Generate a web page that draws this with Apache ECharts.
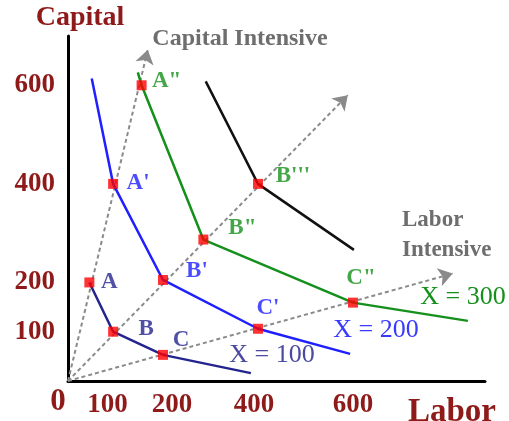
<!DOCTYPE html>
<html>
<head>
<meta charset="utf-8">
<script src="https://cdn.jsdelivr.net/npm/echarts@6/dist/echarts.min.js"></script>
<style>
  html, body { margin: 0; padding: 0; background: #fff; }
  #chart { width: 509px; height: 421px; }
</style>
</head>
<body>
<div id="chart"></div>
<script>
// tick labels shown on each axis
const xTicks = [100, 200, 400, 600]
const yTicks = [100, 200, 400, 600]

// isoquants: [labor, capital]
const curve100 = [[45, 200], [95, 100], [200, 53], [385, 16]]
const curve200 = [[50, 614], [95, 400], [200, 205], [400, 106], [594, 55]]
const curve300 = [[147, 626], [155, 600], [285, 287], [600, 159], [842, 122]]
const curveTop = [[290, 608], [400, 400], [602, 266]]

// marked points
const pointNames = ['A', 'B', 'C', "A'", "B'", "C'", 'A"', 'B"', 'C"', "B'''"]
const pointValues = [[45, 200], [95, 100], [200, 53], [95, 400], [200, 205], [400, 106], [155, 600], [285, 287], [600, 159], [400, 400]]
const pointCurve = [0, 0, 0, 1, 1, 1, 2, 2, 2, 2]

// expansion paths (rays from the origin)
const rayCapital = [[0, 0], [168, 672]]
const rayMiddle = [[0, 0], [589, 580]]
const rayLabor = [[0, 0], [810, 218]]

const curveNames = ['X = 100', 'X = 200', 'X = 300']
const curveColors = ['#24248f', '#1f1fff', '#15901c']
const serif = '"Liberation Serif", "DejaVu Serif", serif'
const darkRed = '#8e1a1a'

// label offsets for each point, in pixels from the marker centre
const labelOffsets = [[20, 0], [33, -3], [18, -15], [25, -1], [34, -9], [10, -21], [25, -4], [39, -11], [8, -25], [35, -8]]

const chart = echarts.init(document.getElementById('chart'))

const curveLine = (data, color) => ({
  type: 'line',
  data: data,
  showSymbol: false,
  silent: true,
  lineStyle: { color: color, width: 2.5 },
  z: 3
})

const option = {
  animation: false,
  grid: { left: 68, right: 24, top: 36, bottom: 40 },
  xAxis: {
    type: 'value',
    min: 0,
    max: 878,
    interval: 100,
    axisLine: { lineStyle: { color: '#000', width: 3 } },
    axisTick: { show: false },
    splitLine: { show: false },
    axisLabel: {
      margin: 11,
      color: darkRed,
      fontFamily: serif,
      fontWeight: 'bold',
      fontSize: 27,
      showMaxLabel: false,
      formatter: function (v) {
        if (!xTicks.includes(v)) return ''
        if (v === 100) return '{l|100}'
        if (v === 200) return '{r|200}'
        if (v === 400) return '{s|400}'
        return '{n|' + v + '}'
      },
      rich: {
        l: { padding: [0, 16, 0, 0], color: darkRed, fontFamily: serif, fontWeight: 'bold', fontSize: 27 },
        r: { padding: [0, 0, 0, 18], color: darkRed, fontFamily: serif, fontWeight: 'bold', fontSize: 27 },
        s: { padding: [0, 8, 0, 0], color: darkRed, fontFamily: serif, fontWeight: 'bold', fontSize: 27 },
        n: { color: darkRed, fontFamily: serif, fontWeight: 'bold', fontSize: 27 }
      }
    }
  },
  yAxis: {
    type: 'value',
    min: 0,
    max: 700,
    interval: 100,
    axisLine: { lineStyle: { color: '#000', width: 3 } },
    axisTick: { show: false },
    splitLine: { show: false },
    axisLabel: {
      margin: 13,
      color: darkRed,
      fontFamily: serif,
      fontWeight: 'bold',
      fontSize: 27,
      formatter: function (v) {
        return yTicks.includes(v) ? String(v) : ''
      }
    }
  },
  series: [
    {
      type: 'lines',
      coordinateSystem: 'cartesian2d',
      silent: true,
      symbol: ['none', 'arrow'],
      symbolSize: 14,
      lineStyle: { color: '#8a8a8a', width: 2, type: [4, 3], opacity: 1 },
      data: [{ coords: rayCapital }, { coords: rayMiddle }, { coords: rayLabor }],
      z: 2
    },
    curveLine(curve100, curveColors[0]),
    curveLine(curve200, curveColors[1]),
    curveLine(curve300, curveColors[2]),
    curveLine(curveTop, '#111'),
    {
      type: 'scatter',
      symbol: 'rect',
      symbolSize: 10,
      silent: true,
      itemStyle: { color: '#ff0000' },
      z: 5,
      data: pointValues.map((v, i) => ({
        value: v,
        label: {
          show: true,
          formatter: pointNames[i],
          position: 'inside',
          align: 'center',
          verticalAlign: 'middle',
          offset: labelOffsets[i],
          color: curveColors[pointCurve[i]],
          fontFamily: serif,
          fontWeight: 'bold',
          fontSize: 23
        }
      }))
    }
  ],
  graphic: [
    { type: 'text', x: 80, y: 18, style: { text: 'Capital', fill: darkRed, font: 'bold 28px ' + serif, textAlign: 'center', textVerticalAlign: 'middle' } },
    { type: 'text', x: 452, y: 412, style: { text: 'Labor', fill: darkRed, font: 'bold 33px ' + serif, textAlign: 'center', textVerticalAlign: 'middle' } },
    { type: 'text', x: 58, y: 402, style: { text: '0', fill: darkRed, font: 'bold 31px ' + serif, textAlign: 'center', textVerticalAlign: 'middle' } },
    { type: 'text', x: 240, y: 39, style: { text: 'Capital Intensive', fill: '#6e6e6e', font: 'bold 24px ' + serif, textAlign: 'center', textVerticalAlign: 'middle' } },
    { type: 'text', x: 402, y: 220, style: { text: 'Labor', fill: '#6e6e6e', font: 'bold 23px ' + serif, textAlign: 'left', textVerticalAlign: 'middle' } },
    { type: 'text', x: 402, y: 250, style: { text: 'Intensive', fill: '#6e6e6e', font: 'bold 23px ' + serif, textAlign: 'left', textVerticalAlign: 'middle' } },
    { type: 'text', x: 272, y: 355, style: { text: curveNames[0], fill: '#4a4aa0', font: '26px ' + serif, textAlign: 'center', textVerticalAlign: 'middle' } },
    { type: 'text', x: 376, y: 330, style: { text: curveNames[1], fill: '#3a3aff', font: '26px ' + serif, textAlign: 'center', textVerticalAlign: 'middle' } },
    { type: 'text', x: 463, y: 297, style: { text: curveNames[2], fill: curveColors[2], font: '26px ' + serif, textAlign: 'center', textVerticalAlign: 'middle' } }
  ]
}

chart.setOption(option)
</script>
</body>
</html>
